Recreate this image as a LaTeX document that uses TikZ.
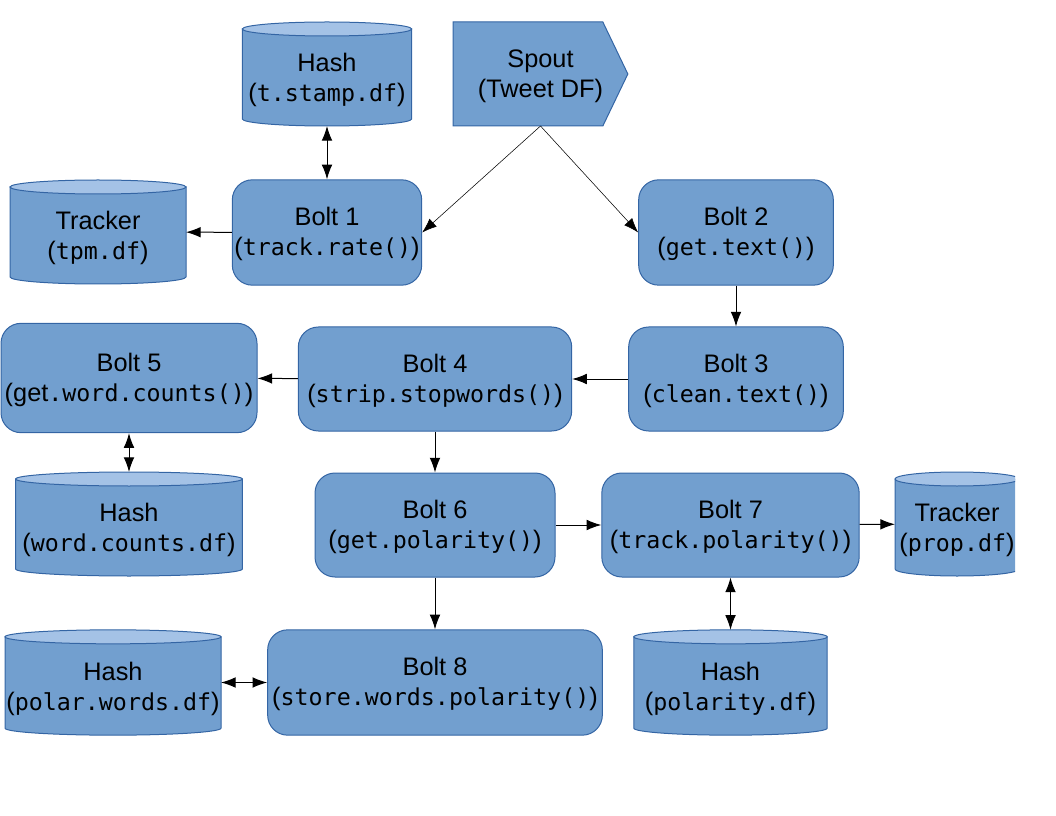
\documentclass[tikz,border=0pt]{standalone}
\usepackage{fontspec}
\setmainfont{Liberation Sans}
\setmonofont{DejaVu Sans Mono}[Scale=0.92]
\usetikzlibrary{arrows.meta,calc,backgrounds}
\definecolor{boltfill}{HTML}{729FCF}
\definecolor{boltline}{HTML}{3465A4}
\definecolor{storetop}{HTML}{A4C2E6}
% first line strut: pushes the two text lines down a little
\newcommand{\boltlines}[2]{\rule{0pt}{16.5pt}#1\\(\texttt{#2})}
\newcommand{\storelines}[2]{\rule{0pt}{23pt}#1\\(\texttt{#2})}
\tikzset{
  label font/.style={font=\fontsize{19}{22.5}\selectfont},
  bolt/.style={draw=boltline,fill=boltfill,rounded corners=15pt,align=center,
    line width=0.75pt,inner sep=0pt,label font},
  store/.style={align=center,inner sep=0pt,outer sep=0pt,label font},
  shape body/.style={draw=boltline,fill=boltfill,line width=0.75pt},
  store end/.style={draw=boltline,fill=storetop,line width=0.75pt},
  link/.style={-{Latex[length=11pt,width=8pt]},line width=0.75pt},
  both/.style={{Latex[length=11pt,width=8pt]}-{Latex[length=11pt,width=8pt]},line width=0.75pt}
}
\begin{document}
\begin{tikzpicture}[x=0.75pt,y=-0.75pt]
\useasboundingbox (0,0) rectangle (1056,816);
\clip (0,0) rectangle (1015,816);
% spout and bolts
\node[store,minimum width=131pt,minimum height=78pt] (spout) at(540.5,74) {\rule{0pt}{16.5pt}Spout\\(Tweet DF)};
\node[bolt,minimum width=142pt,minimum height=79pt] (b1) at(327,232.5) {\boltlines{Bolt 1}{track.rate()}};
\node[bolt,minimum width=146pt,minimum height=79pt] (b2) at(736,232.5) {\boltlines{Bolt 2}{get.text()}};
\node[bolt,minimum width=161pt,minimum height=78pt] (b3) at(736,379) {\boltlines{Bolt 3}{clean.text()}};
\node[bolt,minimum width=205pt,minimum height=78pt] (b4) at(435,379) {\boltlines{Bolt 4}{strip.stopwords()}};
\node[bolt,minimum width=192pt,minimum height=82pt] (b5) at(129,378) {\rule{0pt}{16.5pt}Bolt 5\\(get\texttt{.word.counts()})};
\node[bolt,minimum width=180pt,minimum height=78pt] (b6) at(435,525) {\boltlines{Bolt 6}{get.polarity()}};
\node[bolt,minimum width=193pt,minimum height=78pt] (b7) at(730.5,525) {\boltlines{Bolt 7}{track.polarity()}};
\node[bolt,minimum width=251pt,minimum height=79pt] (b8) at(435,682.5) {\boltlines{Bolt 8}{store.words.polarity()}};
% data stores
\node[store,minimum width=127pt,minimum height=78pt] (stamp) at(327,74) {\storelines{Hash}{t.stamp.df}};
\node[store,minimum width=132pt,minimum height=78pt] (tpm) at(98,232) {\storelines{Tracker}{tpm.df}};
\node[store,minimum width=170pt,minimum height=78pt] (counts) at(129,524) {\storelines{Hash}{word.counts.df}};
\node[store,minimum width=93pt,minimum height=78pt] (prop) at(957,524) {\storelines{Tracker}{prop.df}};
\node[store,minimum width=162pt,minimum height=79pt] (polar) at(113,682.5) {\storelines{Hash}{polar.words.df}};
\node[store,minimum width=145pt,minimum height=79pt] (polarity) at(730.5,682.5) {\storelines{Hash}{polarity.df}};
% outlines behind the texts
\begin{pgfonlayer}{background}
\clip (0,0) rectangle (1015,816);
\draw[shape body] (spout.north west) -- ([xshift=-18.75pt]spout.north east) -- (spout.east)
  -- ([xshift=-18.75pt]spout.south east) -- (spout.south west) -- cycle;
\foreach \s in {stamp,tpm,counts,prop,polar,polarity}{
  \draw[shape body] let \p1=(\s.north west),\p2=(\s.south east),\n1={(\x2-\x1)/2} in
    (\x1,\y1-5.25pt) -- (\x1,\y2+5.25pt)
    arc[start angle=180,end angle=360,x radius=\n1,y radius=5.25pt]
    -- (\x2,\y1-5.25pt) -- cycle;
  \draw[store end] let \p1=(\s.north west),\p2=(\s.north east),\n1={(\x2-\x1)/2} in
    ($(\p1)!0.5!(\p2)+(0,-5.25pt)$) ellipse[x radius=\n1,y radius=5.25pt];
}
\end{pgfonlayer}
% connectors
\draw[link,line width=0.4pt] (spout.south) -- (b1.east);
\draw[link,line width=0.4pt] (spout.south) -- (b2.west);
\draw[both] (stamp) -- (b1);
\draw[link] (b1) -- (tpm);
\draw[link] (b2) -- (b3);
\draw[link] (b3) -- (b4);
\draw[link] (b4) -- (b5);
\draw[both] (b5) -- (counts);
\draw[link] (b4) -- (b6);
\draw[link] (b6) -- (b7);
\draw[link] (b7) -- (prop);
\draw[both] (b7) -- (polarity);
\draw[link] (b6) -- (b8);
\draw[both] (polar) -- (b8);
\end{tikzpicture}
\end{document}
